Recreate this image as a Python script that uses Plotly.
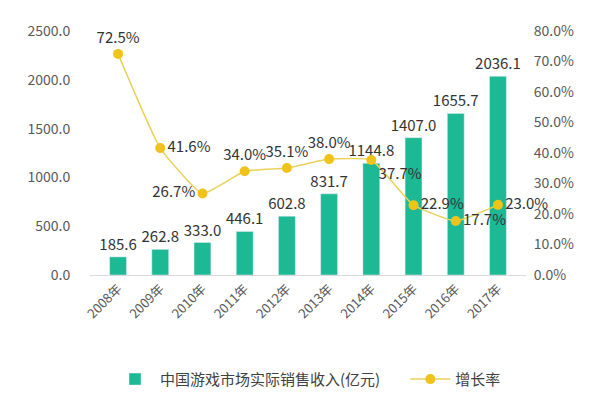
import plotly.graph_objects as go

years = ["2008年", "2009年", "2010年", "2011年", "2012年",
         "2013年", "2014年", "2015年", "2016年", "2017年"]
revenue = [185.6, 262.8, 333.0, 446.1, 602.8, 831.7, 1144.8, 1407.0, 1655.7, 2036.1]
growth = [72.5, 41.6, 26.7, 34.0, 35.1, 38.0, 37.7, 22.9, 17.7, 23.0]
growth_pos = ["top center", "middle right", "middle left", "top center", "top center",
              "top center", "bottom right", "middle right", "middle right", "middle right"]

FONT = "Noto Sans CJK SC, Open Sans, sans-serif"
TEAL = "#1DB894"
GOLD = "#EFC31A"

fig = go.Figure()

fig.add_trace(go.Bar(
    x=years, y=revenue, name="中国游戏市场实际销售收入(亿元)      ",
    marker_color=TEAL,
    text=[f"{v:.1f}" for v in revenue], textposition="outside",
    constraintext="none",
    textfont=dict(size=15, color="#333333"), cliponaxis=False,
))

fig.add_trace(go.Scatter(
    x=years, y=growth, name="增长率", yaxis="y2",
    mode="lines+markers+text",
    line=dict(color="#E9D25C", width=1.5, shape="spline", smoothing=0.4),
    marker=dict(color=GOLD, size=10),
    text=[f"{v:.1f}%" for v in growth], textposition=growth_pos,
    textfont=dict(size=15, color="#333333"), cliponaxis=False,
))

fig.update_layout(
    width=592, height=400,
    margin=dict(l=82, r=74, t=18, b=127),
    paper_bgcolor="white", plot_bgcolor="white",
    font=dict(family=FONT, color="#404040"),
    bargap=0.6,
    showlegend=True,
    legend=dict(orientation="h", x=0.5, xanchor="center", y=-0.36, yanchor="top",
                font=dict(size=15, color="#404040"), itemwidth=40),
    xaxis=dict(tickangle=-45, tickfont=dict(size=13, color="#595959"),
               showline=True, linecolor="#D9D9D9", linewidth=1, ticks=""),
    yaxis=dict(range=[0, 2500], dtick=500, tickformat=".1f",
               showgrid=False, zeroline=False, tickfont=dict(size=14, color="#595959"),
               ticks="outside", ticklen=16, tickcolor="rgba(0,0,0,0)"),
    yaxis2=dict(range=[0, 80], dtick=10, tickformat=".1f", ticksuffix="%",
                overlaying="y", side="right", showgrid=False, zeroline=False,
                tickfont=dict(size=14, color="#595959"),
                ticks="outside", ticklen=4, tickcolor="rgba(0,0,0,0)"),
)

fig.write_html("out.html")
